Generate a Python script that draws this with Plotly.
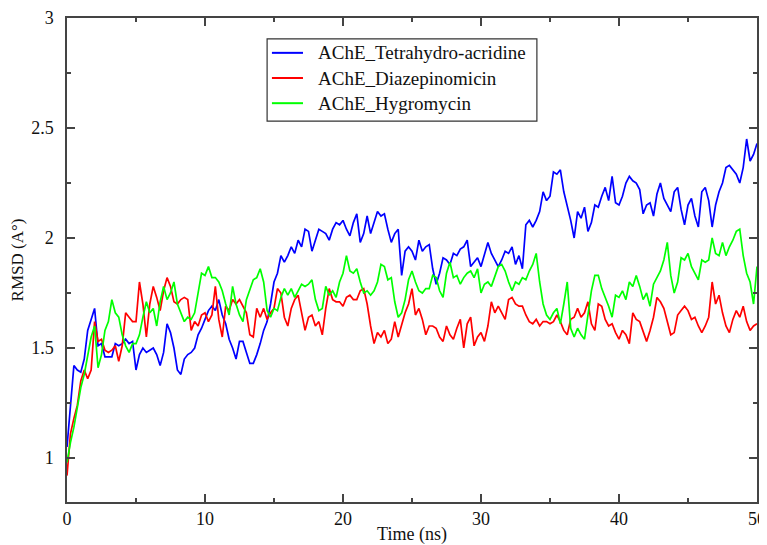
import plotly.graph_objects as go

# Sampling times (ns), every 0.25 ns from 0 to 50
time_ns = [i * 0.25 for i in range(201)]

tetrahydro_acridine = [
    1.05, 1.22, 1.42, 1.40, 1.39, 1.45, 1.58, 1.63, 1.68, 1.51, 1.52, 1.46, 1.46, 1.46, 1.52, 1.51, 1.52, 1.54, 1.52, 1.53,
    1.40, 1.47, 1.50, 1.48, 1.49, 1.50, 1.47, 1.42, 1.48, 1.61, 1.57, 1.50, 1.40, 1.38, 1.45, 1.47, 1.48, 1.50, 1.56, 1.59,
    1.63, 1.67, 1.69, 1.67, 1.72, 1.65, 1.61, 1.54, 1.50, 1.45, 1.53, 1.53, 1.48, 1.43, 1.43, 1.47, 1.52, 1.58, 1.62, 1.70,
    1.80, 1.84, 1.92, 1.89, 1.92, 1.96, 1.93, 1.99, 1.96, 2.04, 2.03, 1.94, 1.99, 2.04, 2.03, 2.02, 1.99, 2.04, 2.07, 2.06,
    2.08, 2.04, 2.01, 2.07, 2.11, 1.98, 2.02, 2.10, 2.02, 2.07, 2.12, 2.10, 2.11, 2.04, 1.98, 2.02, 2.04, 1.83, 1.94, 1.96,
    1.94, 1.90, 1.99, 1.94, 1.96, 1.97, 1.86, 1.79, 1.84, 1.91, 1.90, 1.88, 1.93, 1.92, 1.95, 1.96, 1.99, 1.87, 1.89, 1.91,
    1.87, 1.92, 1.98, 1.93, 1.90, 1.87, 1.90, 1.94, 1.93, 1.96, 1.88, 1.92, 1.86, 2.06, 2.08, 2.05, 2.08, 2.12, 2.21, 2.17,
    2.19, 2.30, 2.29, 2.31, 2.21, 2.15, 2.08, 2.00, 2.12, 2.09, 2.14, 2.03, 2.07, 2.15, 2.14, 2.19, 2.23, 2.17, 2.28, 2.16,
    2.15, 2.19, 2.25, 2.28, 2.26, 2.25, 2.22, 2.11, 2.15, 2.16, 2.10, 2.20, 2.25, 2.18, 2.15, 2.12, 2.21, 2.23, 2.13, 2.06,
    2.15, 2.18, 2.10, 2.05, 2.21, 2.23, 2.17, 2.05, 2.15, 2.21, 2.25, 2.32, 2.33, 2.31, 2.29, 2.25, 2.32, 2.45, 2.35, 2.38,
    2.43,
]

diazepinomicin = [
    0.92, 1.11, 1.18, 1.24, 1.35, 1.40, 1.36, 1.40, 1.62, 1.53, 1.54, 1.49, 1.48, 1.49, 1.51, 1.44, 1.51, 1.66, 1.64, 1.62,
    1.62, 1.80, 1.70, 1.55, 1.70, 1.78, 1.73, 1.67, 1.76, 1.82, 1.78, 1.71, 1.70, 1.72, 1.73, 1.72, 1.58, 1.62, 1.60, 1.65,
    1.66, 1.62, 1.65, 1.78, 1.63, 1.55, 1.69, 1.67, 1.72, 1.70, 1.72, 1.69, 1.66, 1.56, 1.55, 1.68, 1.64, 1.68, 1.63, 1.66,
    1.68, 1.77, 1.75, 1.64, 1.60, 1.68, 1.72, 1.74, 1.66, 1.58, 1.64, 1.65, 1.60, 1.62, 1.56, 1.68, 1.77, 1.72, 1.71, 1.71,
    1.69, 1.73, 1.74, 1.72, 1.72, 1.76, 1.77, 1.70, 1.60, 1.52, 1.57, 1.55, 1.58, 1.52, 1.54, 1.62, 1.55, 1.61, 1.66, 1.70,
    1.77, 1.65, 1.68, 1.63, 1.56, 1.60, 1.60, 1.59, 1.55, 1.53, 1.60, 1.56, 1.54, 1.59, 1.63, 1.50, 1.61, 1.64, 1.51, 1.55,
    1.57, 1.53, 1.60, 1.71, 1.66, 1.69, 1.66, 1.63, 1.72, 1.73, 1.70, 1.69, 1.69, 1.65, 1.62, 1.61, 1.63, 1.60, 1.62, 1.62,
    1.61, 1.62, 1.65, 1.62, 1.58, 1.56, 1.63, 1.64, 1.68, 1.64, 1.66, 1.71, 1.61, 1.58, 1.70, 1.69, 1.63, 1.60, 1.61, 1.57,
    1.54, 1.58, 1.56, 1.52, 1.66, 1.63, 1.62, 1.57, 1.53, 1.58, 1.64, 1.73, 1.71, 1.68, 1.62, 1.56, 1.57, 1.65, 1.67, 1.69,
    1.67, 1.63, 1.64, 1.60, 1.57, 1.60, 1.64, 1.80, 1.70, 1.74, 1.66, 1.60, 1.57, 1.63, 1.67, 1.64, 1.69, 1.62, 1.58, 1.60,
    1.61,
]

hygromycin = [
    0.98, 1.07, 1.14, 1.23, 1.32, 1.38, 1.46, 1.55, 1.60, 1.41, 1.47, 1.58, 1.62, 1.72, 1.66, 1.64, 1.56, 1.51, 1.48, 1.52,
    1.52, 1.56, 1.64, 1.71, 1.66, 1.68, 1.60, 1.71, 1.78, 1.72, 1.75, 1.80, 1.70, 1.66, 1.62, 1.64, 1.63, 1.66, 1.76, 1.84,
    1.83, 1.87, 1.82, 1.82, 1.80, 1.76, 1.70, 1.65, 1.78, 1.70, 1.65, 1.62, 1.72, 1.77, 1.81, 1.82, 1.86, 1.80, 1.67, 1.64,
    1.68, 1.67, 1.73, 1.77, 1.74, 1.77, 1.73, 1.76, 1.79, 1.78, 1.79, 1.81, 1.72, 1.67, 1.68, 1.78, 1.74, 1.76, 1.73, 1.80,
    1.84, 1.92, 1.85, 1.84, 1.86, 1.80, 1.75, 1.76, 1.74, 1.76, 1.80, 1.88, 1.87, 1.81, 1.82, 1.71, 1.64, 1.66, 1.72, 1.81,
    1.85, 1.80, 1.76, 1.75, 1.77, 1.77, 1.83, 1.82, 1.76, 1.73, 1.84, 1.89, 1.82, 1.83, 1.79, 1.82, 1.84, 1.85, 1.82, 1.86,
    1.75, 1.79, 1.80, 1.78, 1.83, 1.87, 1.88, 1.85, 1.80, 1.76, 1.80, 1.79, 1.82, 1.81, 1.85, 1.88, 1.93, 1.80, 1.70, 1.65,
    1.63, 1.66, 1.68, 1.61, 1.70, 1.80, 1.59, 1.55, 1.59, 1.56, 1.54, 1.65, 1.76, 1.83, 1.83, 1.77, 1.73, 1.69, 1.64, 1.74,
    1.73, 1.76, 1.72, 1.80, 1.78, 1.83, 1.78, 1.72, 1.75, 1.69, 1.79, 1.82, 1.85, 1.90, 1.98, 1.83, 1.75, 1.80, 1.91, 1.90,
    1.93, 1.87, 1.84, 1.81, 1.90, 1.89, 1.90, 2.00, 1.93, 1.92, 1.98, 1.92, 1.96, 1.99, 2.03, 2.04, 1.92, 1.84, 1.80, 1.70,
    1.87,
]

series_names = ["AChE_Tetrahydro-acridine", "AChE_Diazepinomicin", "AChE_Hygromycin"]
series_colors = ["#0000ff", "#ff0000", "#00ff00"]
series_values = [tetrahydro_acridine, diazepinomicin, hygromycin]

x_tick_vals = [0, 10, 20, 30, 40, 50]
x_tick_text = ["0", "10", "20", "30", "40", "50"]
y_tick_vals = [1, 1.5, 2, 2.5, 3]
y_tick_text = ["1", "1.5", "2", "2.5", "3"]

serif = "Liberation Serif, Times New Roman, serif"
txt = "#111111"

fig = go.Figure()
for name, color, vals in zip(series_names, series_colors, series_values):
    fig.add_trace(go.Scatter(
        x=time_ns, y=vals, mode="lines", name=name,
        line=dict(color=color, width=1.7), showlegend=False,
    ))

# Boxed legend in the style of the original (paper coordinates)
box_x0, box_x1, box_y0, box_y1 = 0.290, 0.681, 0.787, 0.957
line_x0, line_x1, text_x = 0.297, 0.342, 0.361
row_y = [0.928, 0.876, 0.824]
fig.add_shape(type="rect", xref="paper", yref="paper",
              x0=box_x0, x1=box_x1, y0=box_y0, y1=box_y1,
              line=dict(color="#333333", width=1.2), fillcolor="white", layer="above")
for name, color, yy in zip(series_names, series_colors, row_y):
    fig.add_shape(type="line", xref="paper", yref="paper",
                  x0=line_x0, x1=line_x1, y0=yy, y1=yy,
                  line=dict(color=color, width=2), layer="above")
    fig.add_annotation(xref="paper", yref="paper", x=text_x, y=yy,
                       xanchor="left", yanchor="middle", showarrow=False,
                       text=name, font=dict(family=serif, size=19, color=txt))

axis_common = dict(
    showline=True, linecolor="#444444", linewidth=1.5, mirror="ticks",
    ticks="inside", ticklen=8, tickwidth=1.5, tickcolor="#444444",
    showgrid=False, zeroline=False, automargin=False,
    tickfont=dict(family=serif, size=18, color=txt),
)

fig.update_layout(
    width=759, height=537,
    margin=dict(l=59, r=10, t=10, b=43),
    paper_bgcolor="white", plot_bgcolor="white",
    showlegend=False,
    xaxis=dict(
        range=[0, 50], tickvals=x_tick_vals, ticktext=x_tick_text,
        ticklabelstandoff=0,
        title=dict(text="Time (ns)", font=dict(family=serif, size=18, color=txt), standoff=12),
        minor=dict(ticks="inside", ticklen=4, tickwidth=1.5, tickcolor="#444444", dtick=5, showgrid=False),
        **axis_common,
    ),
    yaxis=dict(
        range=[0.8, 3], tickvals=y_tick_vals, ticktext=y_tick_text,
        ticklabelstandoff=8,
        title=dict(text="RMSD (A°)", font=dict(family=serif, size=17, color=txt), standoff=4),
        minor=dict(ticks="inside", ticklen=4, tickwidth=1.5, tickcolor="#444444", dtick=0.25, showgrid=False),
        **axis_common,
    ),
)

fig.write_html("out.html")
